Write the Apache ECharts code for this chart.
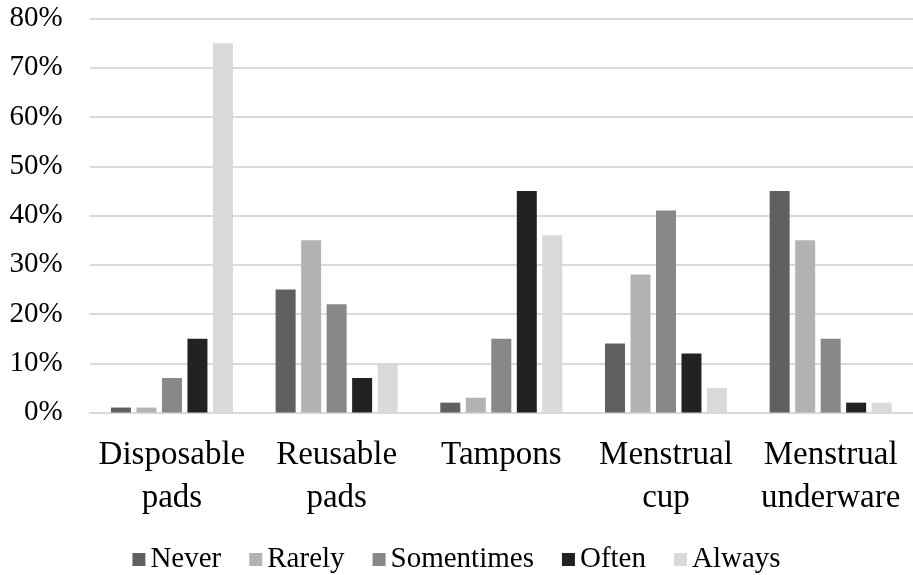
<!DOCTYPE html>
<html>
<head>
<meta charset="utf-8">
<script src="https://cdn.jsdelivr.net/npm/echarts@6/dist/echarts.min.js"></script>
<style>
  html, body { margin: 0; padding: 0; background: #fff; }
  #chart { width: 913px; height: 575px; }
</style>
</head>
<body>
<div id="chart"></div>
<script>
// Menstrual product usage frequency, percent of respondents
const categories = ['Disposable\npads', 'Reusable\npads', 'Tampons', 'Menstrual\ncup', 'Menstrual\nunderware'];
const seriesNames = ['Never', 'Rarely', 'Somentimes', 'Often', 'Always'];
const never      = [1, 25, 2, 14, 45];
const rarely     = [1, 35, 3, 28, 35];
const sometimes  = [7, 22, 15, 41, 15];
const often      = [15, 7, 45, 12, 2];
const always     = [75, 10, 36, 5, 2];
const yTicks = [0, 10, 20, 30, 40, 50, 60, 70, 80];

const values = [never, rarely, sometimes, often, always];
const colors = ['#606060', '#b3b3b3', '#888888', '#222222', '#d9d9d9'];
const font = 'Liberation Serif';

const chart = echarts.init(document.getElementById('chart'), null, { renderer: 'canvas' });
chart.setOption({
  animation: false,
  backgroundColor: '#ffffff',
  // plot area runs slightly past the right edge of the canvas
  grid: { left: 89.6, right: -4.6, top: 18.5, bottom: 162.5, containLabel: false },
  legend: {
    top: 540,
    left: 'center',
    itemWidth: 13,
    itemHeight: 13,
    itemGap: 28,
    icon: 'rect',
    textStyle: { fontFamily: font, fontSize: 29, color: '#000' },
    data: seriesNames
  },
  xAxis: {
    type: 'category',
    data: categories,
    axisLine: { lineStyle: { color: '#d9d9d9', width: 2 } },
    axisTick: { show: false },
    axisLabel: {
      margin: 21,
      fontFamily: font,
      fontSize: 33,
      lineHeight: 43,
      color: '#000',
      interval: 0
    }
  },
  yAxis: {
    type: 'value',
    min: yTicks[0],
    max: yTicks[yTicks.length - 1],
    interval: 10,
    axisLine: { show: false },
    axisTick: { show: false },
    splitLine: { lineStyle: { color: '#d9d9d9', width: 2 } },
    axisLabel: {
      margin: 27,
      fontFamily: font,
      fontSize: 29,
      color: '#000',
      formatter: v => v + '%'
    }
  },
  series: seriesNames.map((name, i) => ({
    name,
    type: 'bar',
    data: values[i],
    barWidth: 20,
    barGap: '27.5%',
    itemStyle: { color: colors[i] }
  }))
});
</script>
</body>
</html>
